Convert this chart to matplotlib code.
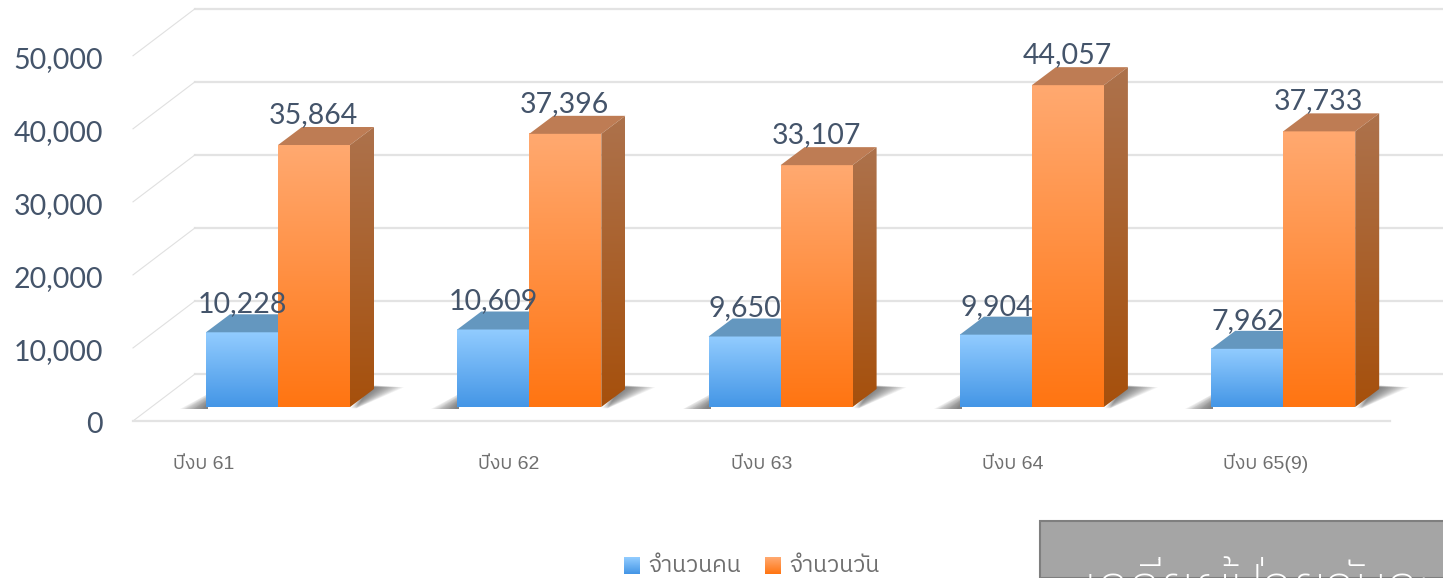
import numpy as np
import matplotlib
matplotlib.use('Agg')
import matplotlib.pyplot as plt
from matplotlib.colors import LinearSegmentedColormap
from matplotlib.patches import Polygon, Rectangle
from matplotlib import font_manager as fm

categorias = ['ปีงบ 61', 'ปีงบ 62', 'ปีงบ 63', 'ปีงบ 64', 'ปีงบ 65(9)']
pessoas = [10228, 10609, 9650, 9904, 7962]
dias = [35864, 37396, 33107, 44057, 37733]
ticks = [0, 10000, 20000, 30000, 40000, 50000]
legenda = ['จำนวนคน', 'จำนวนวัน']

# latin em Liberation, thai cai na fonte que tiver
thai = [f.name for f in fm.fontManager.ttflist if 'thai' in f.name.lower()]
fam_thai = ['Liberation Sans'] + thai + ['Noto Sans', 'DejaVu Sans']

W, H = 1443, 578
px_cat = 251.3   # pixels por categoria
px_val = 73.05 / 10000   # pixels por unidade
x0, y0 = 278, 407

fig = plt.figure(figsize=(W / 100, H / 100), dpi=100)
ax = fig.add_axes([0, 0, 1, 1])
ax.axis('off')
xlim = (-x0 / px_cat, (W - x0) / px_cat)
ylim = (-(H - y0) / px_val, y0 / px_val)

dx = 24 / px_cat   # profundidade das barras
dy = 18 / px_val
larg = 72 / px_cat

# piso / grade
fx, fy = -14 / px_val, -145 / px_cat
bx0, bx1 = -83 / px_cat, (1443 - 278) / px_cat
by = 33 / px_val
for t in ticks:
    ax.plot([bx0, bx1], [t + by, t + by], color='#E3E3E3', lw=1.6, zorder=1)
    ax.plot([fy, bx0], [t + fx, t + by], color='#E0E0E0', lw=0.8, zorder=1)
ax.plot([fy, (1390 - 278) / px_cat], [fx, fx], color='#E3E3E3', lw=1.6, zorder=1)


def gradiente(c1, c2, ext, clip=None, z=3):
    cmap = LinearSegmentedColormap.from_list('g', [c1, c2])
    im = ax.imshow(np.linspace(0, 1, 128).reshape(-1, 1), cmap=cmap, extent=ext,
                   aspect='auto', origin='upper', zorder=z, interpolation='bilinear')
    if clip is not None:
        clip.set_transform(ax.transData)
        im.set_clip_path(clip)


def barra(xe, v, frente, topo, lado, z):
    xd = xe + larg
    gradiente(frente[0], frente[1], (xe, xd, 0, v), z=z)
    ax.add_patch(Polygon([(xe, v), (xd, v), (xd + dx, v + dy), (xe + dx, v + dy)],
                         fc=topo, ec='none', zorder=z))
    if lado is not None:
        pol = Polygon([(xd, 0), (xd + dx, dy), (xd + dx, v + dy), (xd, v)], fc='none', ec='none')
        ax.add_patch(pol)
        gradiente(lado[0], lado[1], (xd, xd + dx, 0, v + dy), clip=pol, z=z)


for i in range(len(categorias)):
    # sombra em camadas para parecer borrada
    esq = i - larg
    dir_ = i + larg
    for k in np.linspace(1, 0.1, 14):
        ax.add_patch(Polygon([(esq - k * 26 / px_cat, -1.5 / px_val), (esq + 2 / px_cat, -1.5 / px_val),
                              (esq + 2 / px_cat, (0.15 + 0.6 * k) * dy)],
                             fc='#4A4A4A', ec='none', alpha=0.075, zorder=2))
        ax.add_patch(Polygon([(dir_ + k * 6 / px_cat, -1.5 / px_val), (dir_ + dx + k * 30 / px_cat, (1.2 - 0.1 * k) * dy),
                              (dir_ + dx - 4 / px_cat, (1.2 - 0.1 * k) * dy)],
                             fc='#4A4A4A', ec='none', alpha=0.075, zorder=2))
    barra(esq, pessoas[i], ('#92CCFF', '#4496E6'), '#6497BF', None, 3)
    barra(i, dias[i], ('#FFA970', '#FF7512'), '#BE7C54', ('#AD724C', '#A6500C'), 4)
    ax.text(i - larg / 2 + 0.002, pessoas[i] + 28 / px_val, f'{pessoas[i]:,}', ha='center', va='center',
            color='#44546A', family='Lato', fontsize=20.5, zorder=6)
    ax.text(i + larg / 2 - 0.002, dias[i] + 30 / px_val, f'{dias[i]:,}', ha='center', va='center',
            color='#44546A', family='Lato', fontsize=20.5, zorder=6)

for t in ticks:
    ax.text((103 - x0) / px_cat, t + fx - 4 / px_val, f'{t:,}', ha='right', va='center',
            color='#44546A', family='Lato', fontsize=20.5, zorder=6)

# rotulos de categoria (o primeiro fica bem deslocado no original)
desloc = [-74, -21, -19, -19, -18]
for i, c in enumerate(categorias):
    ax.text(i + desloc[i] / px_cat, -62 / px_val, c, ha='center', va='baseline',
            color='#6F6F6F', family=fam_thai, fontsize=14, zorder=6)

ax.set_xlim(xlim)
ax.set_ylim(ylim)

# legenda
cores_leg = [('#92CCFF', '#4496E6'), ('#FFA970', '#FF7512')]
xs = [624, 765]
for x, nome, c in zip(xs, legenda, cores_leg):
    a2 = fig.add_axes([x / W, 1 - 574 / H, 16 / W, 17 / H])
    a2.axis('off')
    a2.imshow(np.linspace(0, 1, 32).reshape(-1, 1), aspect='auto',
              cmap=LinearSegmentedColormap.from_list('g', c))
    fig.text((x + 24) / W, 1 - 572 / H, nome, ha='left', va='baseline', color='#6F6F6F',
             family=fam_thai, fontsize=16.5)

# caixa cinza cortada embaixo
fig.add_artist(Rectangle((1040 / W, 0), 420 / W, (H - 521) / H, transform=fig.transFigure,
                         fc='#A5A5A5', ec='#7F7F7F', lw=1.5))
fig.text(1082 / W, 1 - 604 / H, 'เฉลี่ยผู้ป่วยวันละ', ha='left', va='baseline', color='white',
         family=fam_thai, fontsize=40, fontweight='light')

fig.savefig('out.png', dpi=100)
